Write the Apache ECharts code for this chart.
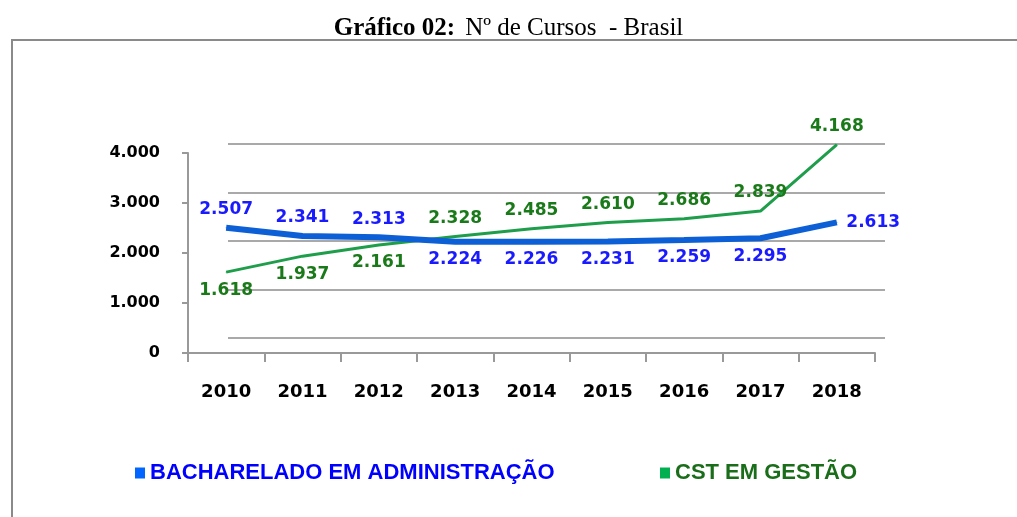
<!DOCTYPE html>
<html>
<head>
<meta charset="utf-8">
<script src="https://cdn.jsdelivr.net/npm/echarts@6/dist/echarts.min.js"></script>
<style>
  html, body { margin: 0; padding: 0; background: #fff; }
  #chart { width: 1017px; height: 517px; }
</style>
</head>
<body>
<div id="chart"></div>
<script>
// dados do gráfico
var anos = ['2010', '2011', '2012', '2013', '2014', '2015', '2016', '2017', '2018']
var bacharelado = [2507, 2341, 2313, 2224, 2226, 2231, 2259, 2295, 2613]
var cstGestao = [1618, 1937, 2161, 2328, 2485, 2610, 2686, 2839, 4168]
var nomeBach = 'BACHARELADO EM ADMINISTRAÇÃO'
var nomeCst = 'CST EM GESTÃO'

// posicao dos rotulos (estilo)
var posBach = ['top', 'top', 'top', 'bottom', 'bottom', 'bottom', 'bottom', 'bottom', 'right']
var posCst = ['bottom', 'bottom', 'bottom', 'top', 'top', 'top', 'top', 'top', 'top']

function fmt(v) {
  return String(v).replace(/\B(?=(\d{3})+(?!\d))/g, '.')
}

var chart = echarts.init(document.getElementById('chart'))
var labelFont = { fontFamily: 'DejaVu Sans', fontWeight: 'bold', fontSize: 17 }

var option = {
  animation: false,
  title: {
    text: '{b|Gráfico 02:}  {n|Nº de Cursos  - Brasil}',
    left: 'center',
    top: 11,
    textStyle: {
      rich: {
        b: { fontFamily: 'Liberation Serif', fontWeight: 'bold', fontSize: 25, color: '#000' },
        n: { fontFamily: 'Liberation Serif', fontWeight: 'normal', fontSize: 25, color: '#000' }
      }
    }
  },
  graphic: [
    {
      type: 'rect',
      shape: { x: 12, y: 40, width: 1040, height: 520 },
      style: { fill: 'none', stroke: '#8a8a8a', lineWidth: 2 }
    }
  ],
  legend: [
    {
      data: [nomeBach],
      left: 130,
      top: 457,
      icon: 'rect',
      itemWidth: 10,
      itemHeight: 11,
      textStyle: { color: '#0000ff', fontFamily: 'Liberation Sans', fontWeight: 'bold', fontSize: 22 }
    },
    {
      data: [nomeCst],
      left: 655,
      top: 457,
      icon: 'rect',
      itemWidth: 10,
      itemHeight: 11,
      textStyle: { color: '#1a6e1a', fontFamily: 'Liberation Sans', fontWeight: 'bold', fontSize: 22 }
    }
  ],
  grid: [
    { left: 188, right: 142, top: 153, height: 200 },
    { left: 228, right: 132, top: 144, height: 194 }
  ],
  xAxis: [
    {
      type: 'category',
      gridIndex: 0,
      data: anos,
      boundaryGap: true,
      axisLine: { lineStyle: { color: '#999', width: 2 } },
      axisTick: { show: true, length: 9, lineStyle: { color: '#999', width: 2 } },
      axisLabel: Object.assign({}, labelFont, { color: '#000', margin: 30, fontSize: 18 })
    },
    {
      type: 'category',
      gridIndex: 1,
      data: anos,
      show: false
    }
  ],
  yAxis: [
    {
      type: 'value',
      gridIndex: 0,
      min: 0,
      max: 4000,
      interval: 1000,
      axisLine: { show: true, lineStyle: { color: '#999', width: 2 } },
      axisTick: { show: true, length: 6, lineStyle: { color: '#999', width: 2 } },
      splitLine: { show: false },
      axisLabel: Object.assign({}, labelFont, { color: '#000', margin: 28, fontSize: 16, formatter: fmt })
    },
    {
      type: 'value',
      gridIndex: 1,
      min: 0,
      max: 4000,
      interval: 1000,
      axisLine: { show: false },
      axisTick: { show: false },
      axisLabel: { show: false },
      splitLine: { lineStyle: { color: '#8c8c8c', width: 1.5 } }
    }
  ],
  series: [
    {
      name: nomeBach,
      type: 'line',
      xAxisIndex: 0,
      yAxisIndex: 0,
      z: 3,
      clip: false,
      symbol: 'circle',
      symbolSize: 1,
      itemStyle: { color: '#0066ff' },
      lineStyle: { color: '#0d5fd6', width: 6 },
      data: bacharelado.map(function (v, i) {
        return { value: v, label: { position: posBach[i] } }
      }),
      label: Object.assign({ show: true, color: '#1a1aff', distance: 9, formatter: function (p) { return fmt(p.value) } }, labelFont)
    },
    {
      name: nomeCst,
      type: 'line',
      xAxisIndex: 0,
      yAxisIndex: 0,
      z: 2,
      clip: false,
      symbol: 'circle',
      symbolSize: 1,
      itemStyle: { color: '#00b050' },
      lineStyle: { color: '#1e9e4a', width: 3 },
      data: cstGestao.map(function (v, i) {
        return { value: v, label: { position: posCst[i] } }
      }),
      label: Object.assign({ show: true, color: '#1a7a1a', distance: 9, formatter: function (p) { return fmt(p.value) } }, labelFont)
    }
  ]
}

chart.setOption(option)
</script>
</body>
</html>
